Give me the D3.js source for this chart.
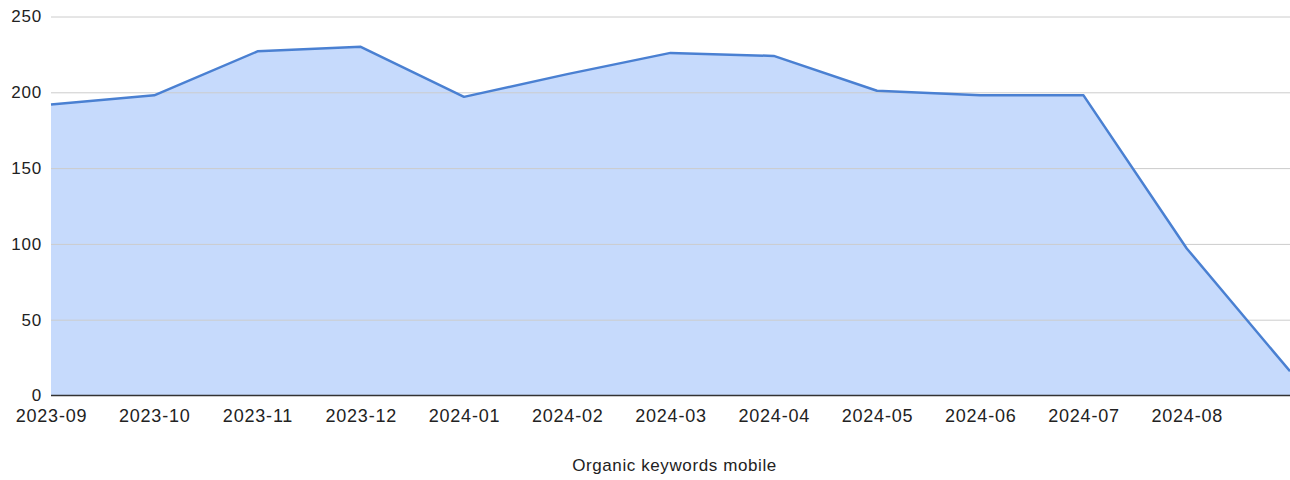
<!DOCTYPE html>
<html>
<head>
<meta charset="utf-8">
<script src="https://cdn.jsdelivr.net/npm/d3@7"></script>
<style>
  body { margin: 0; background: #fff; }
  text { font-family: "Liberation Sans", Arial, sans-serif; fill: #222; }
</style>
</head>
<body>
<svg width="1290" height="480"></svg>
<script>
// months shown on the x axis (last point has no label in the original)
var months = ["2023-09", "2023-10", "2023-11", "2023-12", "2024-01", "2024-02",
  "2024-03", "2024-04", "2024-05", "2024-06", "2024-07", "2024-08", "2024-09"];
var shownLabels = months.slice(0, 12);
// organic keywords, mobile
var keywords = [192, 198, 227, 230, 197, 212, 226, 224, 201, 198, 198, 97, 16];
var yTicks = [0, 50, 100, 150, 200, 250];
var title = "Organic keywords mobile";

var margin = {left: 51, right: 0, top: 16.5, bottom: 84.5};
var width = 1290, height = 480;

var svg = d3.select("svg");

var x = d3.scalePoint()
  .domain(months)
  .range([margin.left, width - margin.right]);

var y = d3.scaleLinear()
  .domain([0, 250])
  .range([height - margin.bottom, margin.top]);

// area under the line, semi transparent so gridlines show through
var data = months.map(function(m, i) { return {m: m, v: keywords[i]}; });

svg.append("path")
  .datum(data)
  .attr("fill", "#4285f4")
  .attr("fill-opacity", 0.3)
  .attr("d", d3.area()
    .x(function(d) { return x(d.m); })
    .y0(y(0))
    .y1(function(d) { return y(d.v); }));

// gridlines + y labels
var yAxis = svg.append("g")
  .attr("transform", "translate(" + margin.left + ",0)")
  .call(d3.axisLeft(y).tickValues(yTicks).tickSize(-(width - margin.left)).tickPadding(9));
yAxis.select(".domain").remove();
yAxis.selectAll(".tick line")
  .attr("stroke", function(d) { return d === 0 ? "none" : "#cccccc"; });
yAxis.selectAll(".tick text")
  .attr("font-size", 17)
  .attr("letter-spacing", "0.8px")
  .attr("fill", "#222");

svg.append("path")
  .datum(data)
  .attr("fill", "none")
  .attr("stroke", "#4a80d2")
  .attr("stroke-width", 2.5)
  .attr("stroke-linejoin", "round")
  .attr("d", d3.line()
    .x(function(d) { return x(d.m); })
    .y(function(d) { return y(d.v); }));

// baseline
svg.append("line")
  .attr("x1", margin.left).attr("x2", width)
  .attr("y1", y(0)).attr("y2", y(0))
  .attr("stroke", "#333").attr("stroke-width", 1.5);

// x labels
var xAxis = svg.append("g")
  .attr("transform", "translate(0," + y(0) + ")")
  .call(d3.axisBottom(x).tickValues(shownLabels).tickSize(0).tickPadding(14));
xAxis.select(".domain").remove();
xAxis.selectAll(".tick text")
  .attr("font-size", 18)
  .attr("letter-spacing", "0.8px")
  .attr("fill", "#222");

svg.append("text")
  .attr("x", (margin.left + width) / 2 + 4)
  .attr("y", 471)
  .attr("text-anchor", "middle")
  .attr("font-size", 17)
  .attr("letter-spacing", "0.6px")
  .text(title);
</script>
</body>
</html>
